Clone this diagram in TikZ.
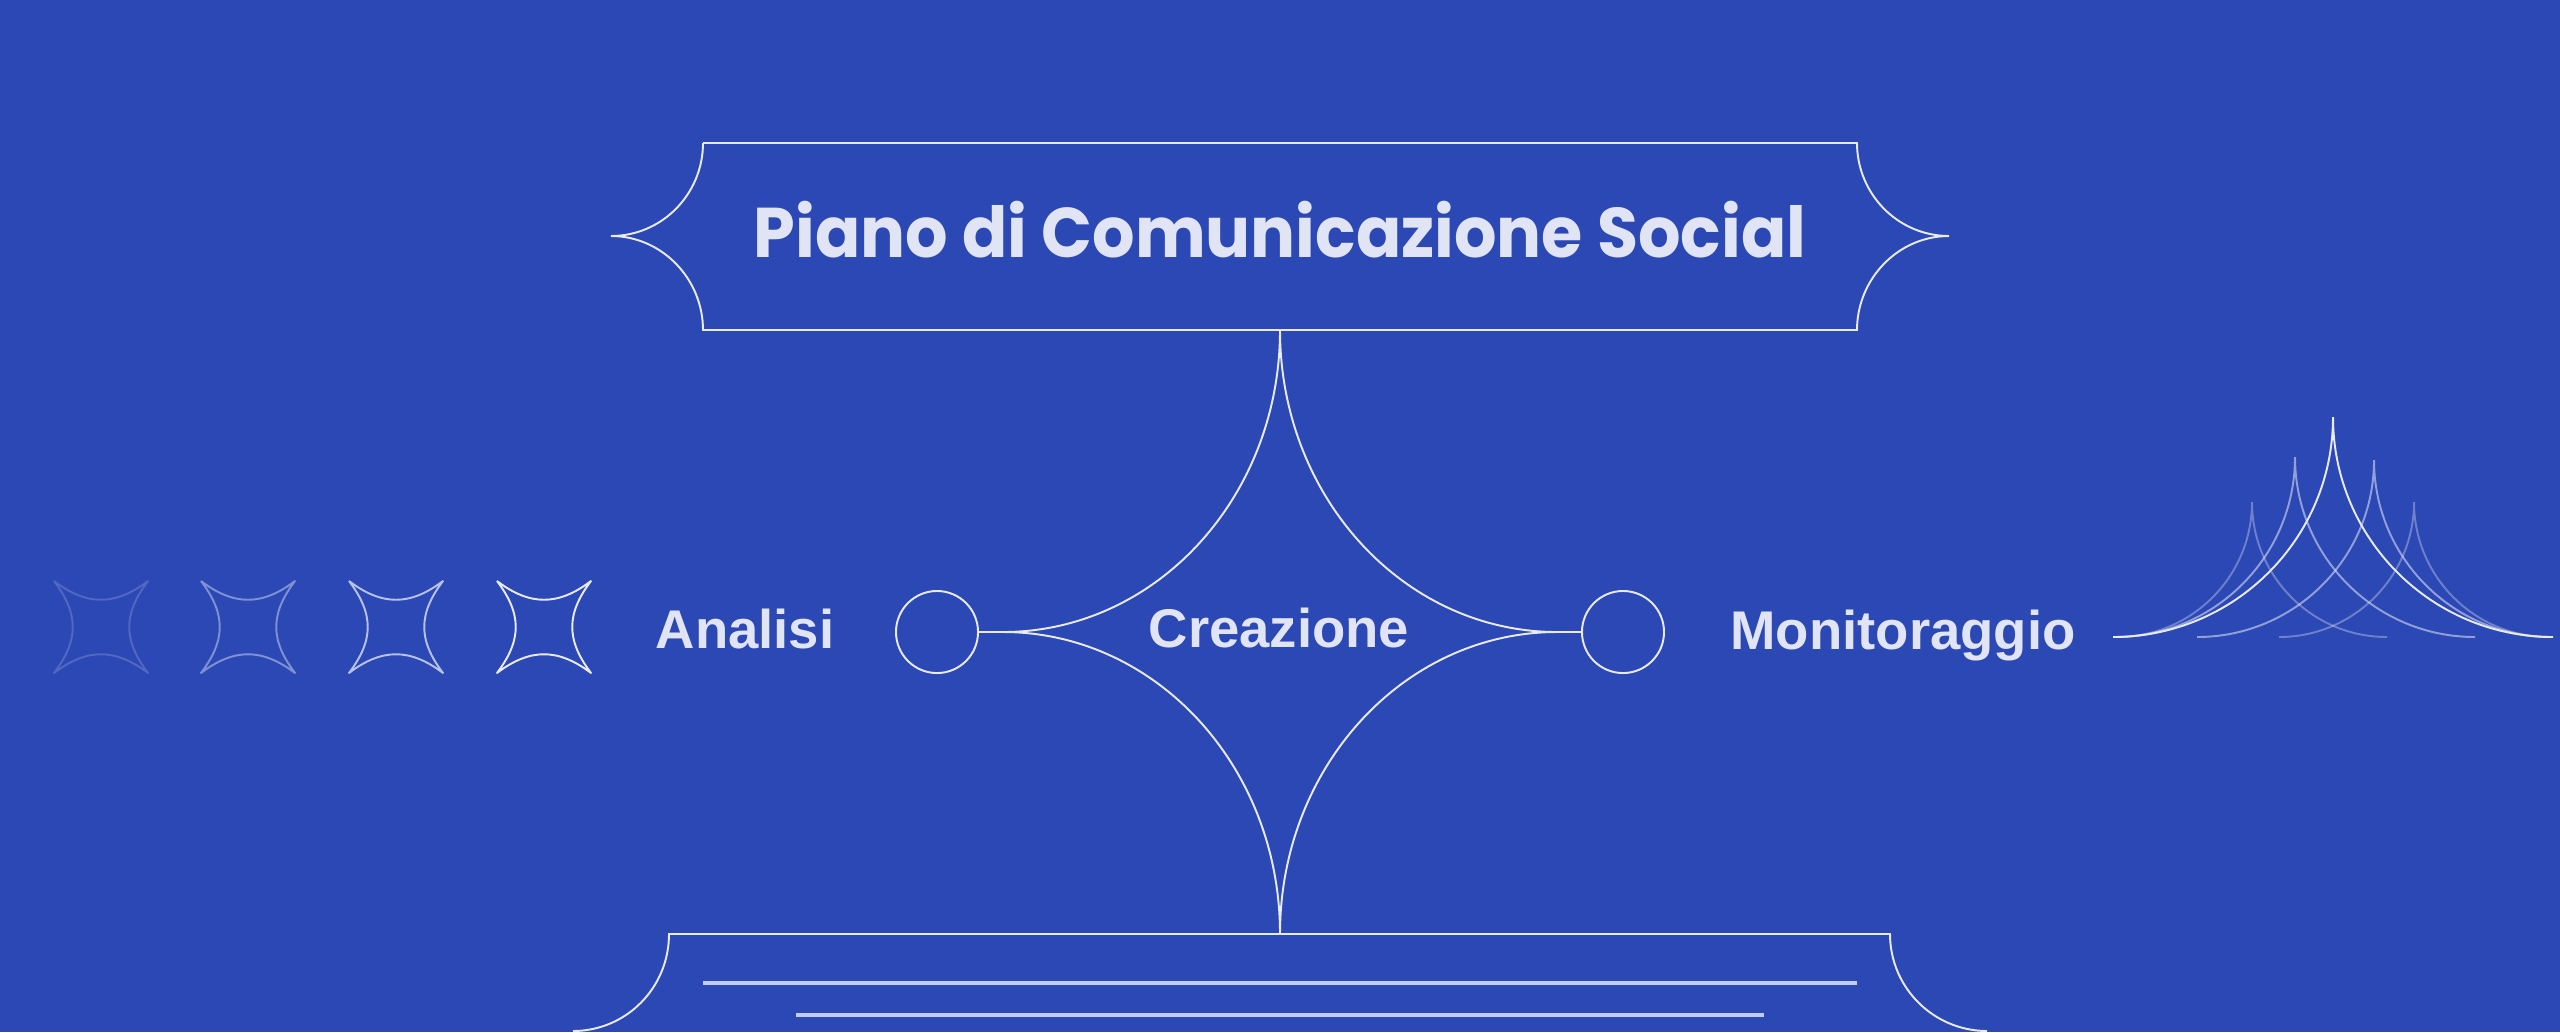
\documentclass[tikz,border=0pt]{standalone}
\usepackage{fontspec}
\setmainfont{Liberation Sans}
\newfontfamily\titlefont{Poppins}[FakeStretch=0.95]
\definecolor{bgblue}{HTML}{2B48B5}
\definecolor{linewhite}{HTML}{E8EAF8}
\definecolor{textwhite}{HTML}{E1E4F4}
\definecolor{paleline}{HTML}{C3CCF2}

\begin{document}
\begin{tikzpicture}[x=0.01cm, y=-0.01cm,
  every node/.style={inner sep=0pt, outer sep=0pt, text=textwhite},
  wline/.style={draw=linewhite, line width=0.55pt},
  pline/.style={draw=paleline, line width=0.9pt},
  labeltext/.style={font=\fontsize{15.5}{18}\selectfont\bfseries, anchor=base},
  ring/.style={circle, draw=linewhite, line width=0.55pt, minimum size=0.82cm}]
\useasboundingbox (0,0) rectangle (2560,1032);
\fill[bgblue] (0,0) rectangle (2560,1032);

% title box
\node[font=\titlefont\fontsize{20}{24}\selectfont\bfseries, anchor=base] (title) at (1280,257) {Piano di Comunicazione Social};
\draw[wline] (703,143) -- (1857,143) .. controls +(0,51) and +(-51,0) .. (1949,236)
  .. controls +(-51,0) and +(0,-51) .. (1857,330) -- (703,330)
  .. controls +(0,-51) and +(51,0) .. (611,236) .. controls +(51,0) and +(0,51) .. (703,143);

\coordinate (top) at (1280,330);
\coordinate (bot) at (1280,934);
\coordinate (lcusp) at (1003,632);
\coordinate (rcusp) at (1557,632);

\node[ring] (lring) at (937,632) {};
\node[ring] (rring) at (1623,632) {};
\draw[wline] (lring.east) -- (lcusp);
\draw[wline] (rcusp) -- (rring.west);

% star
\draw[wline] (top) .. controls +(0,167) and +(-153,0) .. (rcusp);
\draw[wline] (top) .. controls +(0,167) and +(153,0) .. (lcusp);
\draw[wline] (bot) .. controls +(0,-167) and +(-153,0) .. (rcusp);
\draw[wline] (bot) .. controls +(0,-167) and +(153,0) .. (lcusp);

\node[labeltext] (analisi) at (745,648) {Analisi};
\node[labeltext] (creazione) at (1279,647) {Creazione};
\node[labeltext] (monitoraggio) at (1903,649) {Monitoraggio};

% bottom box
\draw[wline] (573,1031) .. controls +(53,0) and +(0,54) .. (669,934) -- (1890,934)
  .. controls +(0,54) and +(-53,0) .. (1987,1031);
\draw[pline] (703,983) -- (1857,983);
\draw[pline] (796,1015) -- (1764,1015);

% left stars
\foreach \x/\o in {101/0.2, 248/0.45, 396/0.75, 544/1}
  \draw[wline, line join=round, draw opacity=\o] (\x-47,581) .. controls (\x-14,606) and (\x+14,606) .. (\x+47,581)
    .. controls (\x+22,614) and (\x+22,640) .. (\x+47,673) .. controls (\x+14,648) and (\x-14,648) .. (\x-47,673)
    .. controls (\x-22,640) and (\x-22,614) .. (\x-47,581);

% right arches
\foreach \ax/\h/\o in {2252/135/0.35, 2414/135/0.35, 2295/180/0.55, 2374/177/0.55, 2333/220/1}
  \draw[wline, draw opacity=\o] (\ax-\h,637) .. controls +(0.5523*\h,0) and +(0,0.5523*\h) .. (\ax,637-\h)
    .. controls +(0,0.5523*\h) and +(-0.5523*\h,0) .. (\ax+\h,637);
\end{tikzpicture}
\end{document}
